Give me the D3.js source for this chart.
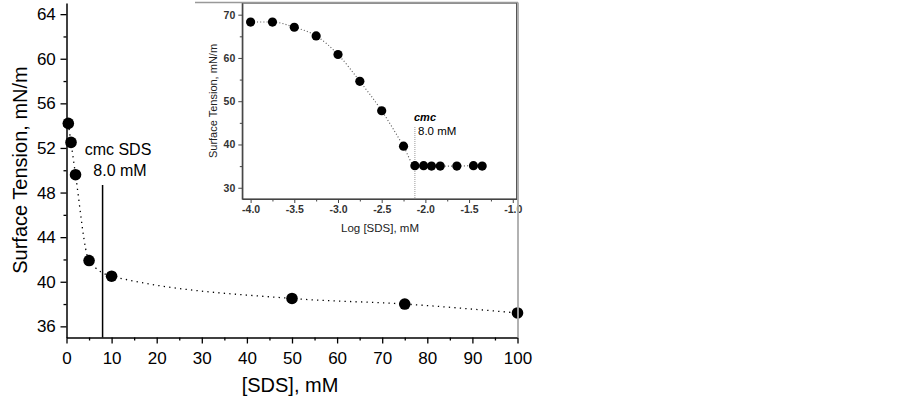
<!DOCTYPE html>
<html>
<head>
<meta charset="utf-8">
<script src="https://cdn.jsdelivr.net/npm/d3@7"></script>
<style>
  body { margin: 0; background: #fff; }
  text { font-family: Arial, "Liberation Sans", sans-serif; }
</style>
</head>
<body>
<script>
// main chart: surface tension vs [SDS]
const sdsConc = [0.4, 1, 2, 5, 10, 50, 75, 100];
const tension = [54.2, 52.5, 49.6, 41.9, 40.5, 38.5, 38.0, 37.2];
const xTicks = [0, 10, 20, 30, 40, 50, 60, 70, 80, 90, 100];
const yTicks = [36, 40, 44, 48, 52, 56, 60, 64];
const cmc = 8.0;

// inset: surface tension vs log [SDS]
const logConc = [-4.0, -3.75, -3.5, -3.25, -3.0, -2.75, -2.5, -2.25, -2.12, -2.02, -1.93, -1.83, -1.64, -1.45, -1.35];
const logTension = [68.3, 68.3, 67.1, 65.1, 60.8, 54.6, 47.8, 39.6, 35.1, 35.1, 35.0, 35.0, 35.0, 35.1, 35.0];
const insetXTicks = [-4.0, -3.5, -3.0, -2.5, -2.0, -1.5, -1.0];
const insetYTicks = [30, 40, 50, 60, 70];
const logCmc = -2.12;

const width = 902, height = 396;

const svg = d3.select('body').append('svg')
  .attr('width', width)
  .attr('height', height);

const x = d3.scaleLinear().domain([0, 100]).range([66.5, 517.5]);
const y = d3.scaleLinear().domain([35, 65]).range([337.5, 3]);

// axes
const xAxis = svg.append('g').attr('transform', `translate(0,${y(35)})`)
  .call(d3.axisBottom(x).tickValues(xTicks).tickFormat(d3.format('d')).tickSize(6).tickSizeOuter(0));
svg.append('g').attr('transform', `translate(0,${y(35)})`)
  .call(d3.axisBottom(x).tickValues(d3.range(5, 100, 10)).tickFormat('').tickSize(3).tickSizeOuter(0))
  .select('.domain').remove();
const yAxis = svg.append('g').attr('transform', `translate(${x(0)},0)`)
  .call(d3.axisLeft(y).tickValues(yTicks).tickSize(6).tickSizeOuter(0));
svg.append('g').attr('transform', `translate(${x(0)},0)`)
  .call(d3.axisLeft(y).tickValues(d3.range(38, 65, 4)).tickFormat('').tickSize(3).tickSizeOuter(0))
  .select('.domain').remove();

svg.selectAll('.domain').attr('stroke', '#000').attr('stroke-width', 1.5);
svg.selectAll('.tick line').attr('stroke', '#000').attr('stroke-width', 1.3);
xAxis.selectAll('text').attr('font-size', 17).attr('fill', '#000').attr('dy', '1.05em');
yAxis.selectAll('text').attr('font-size', 17).attr('fill', '#000').attr('dx', '-0.1em');

// axis titles
svg.append('text')
  .attr('x', 290).attr('y', 392)
  .attr('text-anchor', 'middle').attr('font-size', 20)
  .text('[SDS], mM');
svg.append('text')
  .attr('transform', `translate(27,170) rotate(-90)`)
  .attr('text-anchor', 'middle').attr('font-size', 20)
  .text('Surface Tension, mN/m');

// cmc marker
svg.append('line')
  .attr('x1', x(cmc)).attr('x2', x(cmc))
  .attr('y1', 185).attr('y2', y(35))
  .attr('stroke', '#000').attr('stroke-width', 1.5);
svg.append('text').attr('x', 118).attr('y', 155)
  .attr('text-anchor', 'middle').attr('font-size', 16).text('cmc SDS');
svg.append('text').attr('x', 120).attr('y', 176)
  .attr('text-anchor', 'middle').attr('font-size', 16).text('8.0 mM');

const pts = sdsConc.map((d, i) => [d, tension[i]]);
const line = d3.line().x(d => x(d[0])).y(d => y(d[1])).curve(d3.curveMonotoneX);

svg.append('path')
  .attr('d', line(pts))
  .attr('fill', 'none')
  .attr('stroke', '#000')
  .attr('stroke-width', 1.3)
  .attr('stroke-dasharray', '1.3,4.2');

svg.selectAll('circle.main')
  .data(pts)
  .join('circle')
  .attr('class', 'main')
  .attr('cx', d => x(d[0]))
  .attr('cy', d => y(d[1]))
  .attr('r', 5.8)
  .attr('fill', '#000');

// inset
const inset = svg.append('g');
inset.append('rect')
  .attr('x', 200).attr('y', 2.5).attr('width', 317.5).attr('height', 236)
  .attr('fill', '#fff');
svg.append('line')
  .attr('x1', 195).attr('x2', 518).attr('y1', 2.5).attr('y2', 2.5)
  .attr('stroke', '#999').attr('stroke-width', 1.5);
svg.append('line')
  .attr('x1', 518).attr('x2', 518).attr('y1', 2.5).attr('y2', y(35))
  .attr('stroke', '#aaa').attr('stroke-width', 1.8);

const ix = d3.scaleLinear().domain([-4.095, -0.955]).range([242.3, 516.7]);
const iy = d3.scaleLinear().domain([27.4, 72.7]).range([199, 3]);

inset.append('rect')
  .attr('x', ix.range()[0]).attr('y', iy.range()[1])
  .attr('width', ix.range()[1] - ix.range()[0])
  .attr('height', iy.range()[0] - iy.range()[1])
  .attr('fill', 'none').attr('stroke', '#444').attr('stroke-width', 1.2);

const ixAxis = inset.append('g').attr('transform', `translate(0,${iy.range()[0]})`)
  .call(d3.axisBottom(ix).tickValues(insetXTicks).tickFormat(d3.format('.1f')).tickSize(4).tickSizeOuter(0));
inset.append('g').attr('transform', `translate(0,${iy.range()[0]})`)
  .call(d3.axisBottom(ix).tickValues(d3.range(-3.75, -1.0, 0.5)).tickFormat('').tickSize(2.5).tickSizeOuter(0))
  .select('.domain').remove();
const iyAxis = inset.append('g').attr('transform', `translate(${ix.range()[0]},0)`)
  .call(d3.axisLeft(iy).tickValues(insetYTicks).tickSize(4).tickSizeOuter(0));
inset.append('g').attr('transform', `translate(${ix.range()[0]},0)`)
  .call(d3.axisLeft(iy).tickValues([35, 45, 55, 65]).tickFormat('').tickSize(2.5).tickSizeOuter(0))
  .select('.domain').remove();

inset.selectAll('.domain').attr('stroke', '#444').attr('stroke-width', 1.2);
inset.selectAll('.tick line').attr('stroke', '#444');
ixAxis.selectAll('text').attr('font-size', 10.5).attr('font-weight', 'bold').attr('fill', '#333')
  .text(d => d3.format('.1f')(d).replace('−', '-'));
iyAxis.selectAll('text').attr('font-size', 10.5).attr('font-weight', 'bold').attr('fill', '#333');

inset.append('text')
  .attr('x', 380).attr('y', 231.5)
  .attr('text-anchor', 'middle').attr('font-size', 11.5).attr('fill', '#222')
  .text('Log [SDS], mM');
inset.append('text')
  .attr('transform', `translate(217,101) rotate(-90)`)
  .attr('text-anchor', 'middle').attr('font-size', 11).attr('fill', '#222')
  .text('Surface Tension, mN/m');

// inset cmc
inset.append('line')
  .attr('x1', ix(logCmc)).attr('x2', ix(logCmc))
  .attr('y1', 127).attr('y2', iy.range()[0])
  .attr('stroke', '#999').attr('stroke-width', 1)
  .attr('stroke-dasharray', '1,1');
inset.append('text').attr('x', 414).attr('y', 121)
  .attr('font-size', 11).attr('font-style', 'italic').attr('font-weight', 'bold')
  .text('cmc');
inset.append('text').attr('x', 418).attr('y', 135)
  .attr('font-size', 11.5).text('8.0 mM');

const ipts = logConc.map((d, i) => [d, logTension[i]]);
const iline = d3.line().x(d => ix(d[0])).y(d => iy(d[1])).curve(d3.curveMonotoneX);
inset.append('path')
  .attr('d', iline(ipts))
  .attr('fill', 'none')
  .attr('stroke', '#555')
  .attr('stroke-width', 1.1)
  .attr('stroke-dasharray', '1,2.2');

inset.selectAll('circle')
  .data(ipts)
  .join('circle')
  .attr('cx', d => ix(d[0]))
  .attr('cy', d => iy(d[1]))
  .attr('r', 4.6)
  .attr('fill', '#000');
</script>
</body>
</html>
